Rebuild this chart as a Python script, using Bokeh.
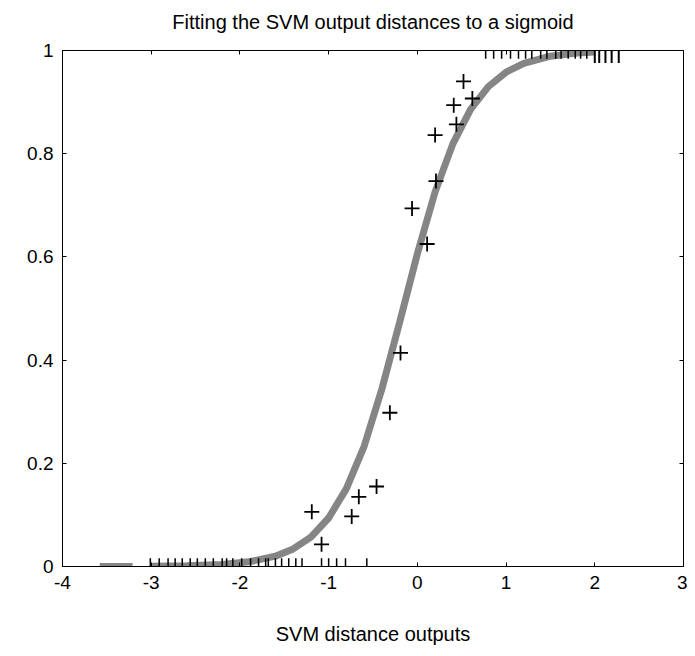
from bokeh.plotting import figure
from bokeh.models import LinearAxis, FixedTicker, Range1d
from bokeh.embed import file_html
from bokeh.resources import INLINE

# ---------------- data ----------------
title_text = "Fitting the SVM output distances to a sigmoid"
x_ticks = [-4, -3, -2, -1, 0, 1, 2, 3]
x_tick_labels = ["-4", "-3", "-2", "-1", "0", "1", "2", "3"]
y_ticks = [0, 0.2, 0.4, 0.6, 0.8, 1]
y_tick_labels = ["0", "0.2", "0.4", "0.6", "0.8", "1"]

# empirical (binned) probabilities, black "+"
pt_x = [-1.19, -1.08, -0.74, -0.66, -0.46, -0.31, -0.19, -0.06, 0.11, 0.21,
        0.20, 0.44, 0.41, 0.52, 0.62]
pt_y = [0.106, 0.043, 0.097, 0.135, 0.155, 0.298, 0.414, 0.694, 0.625, 0.747,
        0.836, 0.857, 0.894, 0.940, 0.907]

# fitted sigmoid (grey)
curve_x = [-3.58, -3.21, float("nan"), -3.0, -2.6, -2.2, -1.9, -1.6, -1.4, -1.2,
           -1.0, -0.8, -0.6, -0.4, -0.2, 0.0, 0.2, 0.4, 0.6, 0.8, 1.0, 1.2,
           1.5, 1.8, 2.0]
curve_y = [0.0, 0.0, float("nan"), 0.0005, 0.0014, 0.004, 0.009, 0.020, 0.034,
           0.057, 0.094, 0.151, 0.233, 0.344, 0.473, 0.606, 0.726, 0.819,
           0.886, 0.930, 0.958, 0.975, 0.989, 0.995, 0.997]

# negative examples (rug at y = 0)
neg_x = [-3.01, -2.91, -2.81, -2.73, -2.65, -2.56, -2.48, -2.39, -2.30, -2.20,
         -2.15, -2.08, -1.98, -1.88, -1.79, -1.71, -1.68, -1.60, -1.53, -1.45,
         -1.37, -1.30, -1.08, -1.00, -0.91, -0.81, -0.57]
# positive examples (rug at y = 1)
pos_x = [0.77, 0.86, 0.95, 1.05, 1.14, 1.22, 1.29, 1.39, 1.46, 1.56, 1.62,
         1.70, 1.78, 1.84, 1.91]
pos_x_heavy = [2.00, 2.05, 2.12, 2.19, 2.27]

FONT = "Liberation Sans"

p = figure(width=687, height=652, x_range=Range1d(-4, 3), y_range=Range1d(0, 1),
           output_backend="svg", toolbar_location=None,
           min_border_left=62, min_border_right=4, min_border_top=50,
           min_border_bottom=86)
p.grid.visible = False
p.outline_line_color = "black"
p.background_fill_color = "white"
p.border_fill_color = "white"

def style_axis(ax, labels=True):
    ax.axis_line_color = "black"
    ax.major_tick_line_color = "black"
    ax.major_tick_in = 4
    ax.major_tick_out = 0
    ax.minor_tick_line_color = None
    ax.major_label_text_font = FONT
    ax.major_label_text_font_size = "19px"
    ax.major_label_text_color = "black"
    if not labels:
        ax.major_label_text_font_size = "0px"
        ax.major_label_text_color = None
        ax.major_label_standoff = 0

xa = p.xaxis[0]
xa.ticker = FixedTicker(ticks=x_ticks)
xa.major_label_overrides = {t: l for t, l in zip(x_ticks, x_tick_labels)}
style_axis(xa)
xa.major_label_standoff = 9
xa.axis_label = "SVM distance outputs"
xa.axis_label_text_font = FONT
xa.axis_label_text_font_size = "20px"
xa.axis_label_text_font_style = "normal"
xa.axis_label_text_color = "black"
xa.axis_label_standoff = 31

ya = p.yaxis[0]
ya.ticker = FixedTicker(ticks=y_ticks)
ya.major_label_overrides = {t: l for t, l in zip(y_ticks, y_tick_labels)}
style_axis(ya)
ya.major_label_standoff = 9

# top axis carries the chart title as its label
top = LinearAxis(ticker=FixedTicker(ticks=x_ticks))
style_axis(top, labels=False)
top.axis_label = title_text
top.axis_label_text_font = FONT
top.axis_label_text_font_size = "20px"
top.axis_label_text_font_style = "normal"
top.axis_label_text_color = "black"
top.axis_label_standoff = 18
p.add_layout(top, "above")
right = LinearAxis(ticker=FixedTicker(ticks=y_ticks))
style_axis(right, labels=False)
p.add_layout(right, "right")

# sigmoid curve
p.line(curve_x, curve_y, line_color="#858585", line_width=7)

# rugs
tick_len = 0.016
p.segment(x0=neg_x, y0=[0] * len(neg_x), x1=neg_x, y1=[tick_len] * len(neg_x),
          line_color="black", line_width=1.5)
p.segment(x0=pos_x, y0=[1] * len(pos_x), x1=pos_x, y1=[1 - tick_len] * len(pos_x),
          line_color="black", line_width=1.5)
p.segment(x0=pos_x_heavy, y0=[1] * len(pos_x_heavy), x1=pos_x_heavy,
          y1=[1 - 1.5 * tick_len] * len(pos_x_heavy),
          line_color="black", line_width=2)

# empirical points
p.scatter(pt_x, pt_y, marker="cross", size=15, line_color="black", line_width=1.8)

open("out.html", "w").write(file_html(p, INLINE))
